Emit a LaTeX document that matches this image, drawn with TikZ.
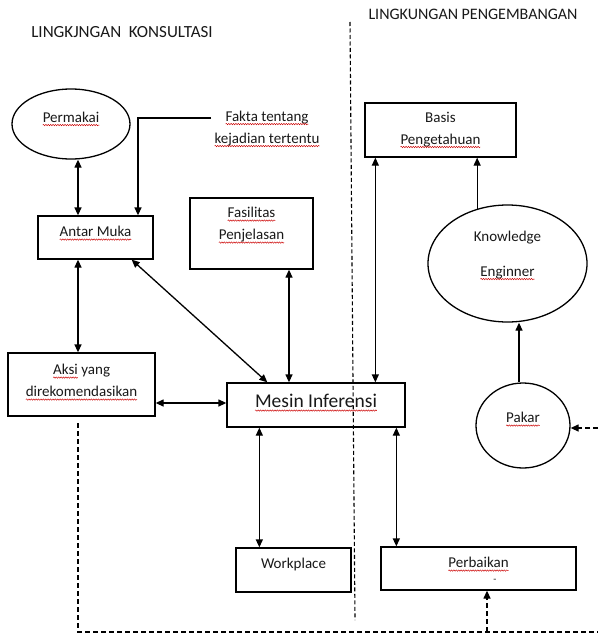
\documentclass[tikz,border=0pt]{standalone}
\usepackage{fontspec}
\setmainfont{Carlito}
\usetikzlibrary{arrows.meta,calc,shapes.geometric,decorations.pathmorphing}
\newcommand\rw[1]{\begin{tikzpicture}[baseline=(rwtxt.base),x=1pt,y=1pt]\node[inner sep=0pt,outer sep=0pt,draw=none] (rwtxt) {#1};\draw[red!80!black, line width=0.45pt, decorate, decoration={snake, amplitude=0.7pt, segment length=2.4pt}] ([yshift=-2.6pt]rwtxt.base west) -- ([yshift=-2.6pt]rwtxt.base east);\end{tikzpicture}}
\tikzset{
  box/.style={draw, line width=1.3pt, rectangle, inner sep=0pt},
  ell/.style={draw, line width=1.3pt, ellipse, inner sep=0pt},
  txt/.style={font=\fontsize{15}{22}\selectfont, align=center, text=black!90, inner sep=0pt},
  ttl/.style={font=\fontsize{16}{20}\selectfont, text=black!90, inner sep=0pt},
  arr/.style={line width=1.3pt, -{Triangle[length=8pt,width=7pt]}},
  dbl/.style={line width=1.3pt, {Triangle[length=8pt,width=7pt]}-{Triangle[length=8pt,width=7pt]}},
  dsh/.style={line width=1.3pt, dash pattern=on 5pt off 3pt},
  dsharr/.style={dsh, -{Triangle[length=8pt,width=7pt]}}
}
\begin{document}
\begin{tikzpicture}[x=1pt,y=-1pt]
\useasboundingbox[fill=white] (0,0) rectangle (598,634);
% titles
\node[ttl, font=\fontsize{17}{20}\selectfont] (t1) at (122,32) {LINGKJNGAN\ \ KONSULTASI};
\node[ttl] (t2) at (473,14) {LINGKUNGAN PENGEMBANGAN};
% separator
\coordinate (s1) at (350,22);
\coordinate (s2) at (355,620);
\draw[dsh, line width=1.1pt, dash pattern=on 4pt off 2.5pt] (s1) -- (s2);
% nodes
\node[ell, minimum width=118pt, minimum height=70pt,
  label={[txt,yshift=5pt]center:\rw{Permakai}}] (pm) at (71,124) {};
\node[txt] (fakta) at (267,129) {\rw{Fakta tentang}\\\rw{kejadian tertentu}};
\node[box, minimum width=115pt, minimum height=43pt,
  label={[txt,yshift=4pt]center:\rw{Antar Muka}}] (am) at (95.5,237.5) {};
\node[box, minimum width=123pt, minimum height=71pt,
  label={[txt,yshift=8pt]center:\rw{Fasilitas}\\\rw{Penjelasan}}] (fp) at (251.5,233.5) {};
\node[box, minimum width=147pt, minimum height=63pt,
  label={[txt,yshift=2pt]center:\rw{Aksi} yang\\\rw{direkomendasikan}}] (aksi) at (81.5,384.5) {};
\node[box, minimum width=178pt, minimum height=44pt,
  label={[txt,font=\fontsize{19.5}{24}\selectfont,yshift=2pt]center:\rw{Mesin Inferensi}}] (mesin) at (316,405) {};
\node[box, minimum width=151pt, minimum height=54pt,
  label={[txt]center:Basis\\\rw{Pengetahuan}}] (basis) at (440.5,130) {};
\node[ell, minimum width=159pt, minimum height=117pt,
  label={[txt,yshift=8pt,font=\fontsize{15}{35}\selectfont]center:Knowledge\\\rw{Enginner}}] (ke) at (507.5,263.5) {};
\node[ell, minimum width=94pt, minimum height=85pt,
  label={[txt,yshift=6pt]center:\rw{Pakar}}] (pk) at (523,425.5) {};
\node[box, minimum width=115pt, minimum height=44pt,
  label={[txt,yshift=6pt]center:Workplace}] (wp) at (293.5,570) {};
\node[box, minimum width=195pt, minimum height=43pt,
  label={[txt,yshift=4pt]center:\rw{Perbaikan}}] (pb) at (478.5,568.5) {};
\node[txt, font=\fontsize{10}{12}\selectfont] (dash) at (495,581) {-};
% connectors
\draw[dbl] ([xshift=7pt]pm.south) -- ([xshift=7pt]pm.south |- am.north);
\coordinate (f1) at (211,118);
\draw[arr] (f1) -| ([xshift=42.5pt]am.north);
\draw[dbl] ([xshift=-17.5pt]am.south) -- ([xshift=-17.5pt]am.south |- aksi.north);
\draw[dbl] ([xshift=-22pt]am.south east) -- ([xshift=41pt]mesin.north west);
\draw[dbl] ([xshift=37.5pt]fp.south) -- ([xshift=37.5pt]fp.south |- mesin.north);
\draw[dbl] ([yshift=2pt]mesin.west -| aksi.east) -- ([yshift=2pt]mesin.west);
\draw[dbl] ([xshift=149pt]mesin.north west) -- ([xshift=149pt]mesin.north west |- basis.south);
\draw[arr] (ke.119.5) -- (ke.119.5 |- basis.south);
\draw[arr] ([xshift=-4pt]pk.north) -- ([xshift=-4pt]pk.north |- ke.south);
\draw[dbl] ([xshift=33pt]mesin.south west) -- ([xshift=33pt]mesin.south west |- wp.north);
\draw[dbl] ([xshift=170pt]mesin.south west) -- ([xshift=170pt]mesin.south west |- pb.north);
% dashed feedback
\coordinate (d1) at (78,423);
\coordinate (d2) at (78,632);
\coordinate (d3) at (598,632);
\coordinate (d4) at (598,428);
\coordinate (d5) at (487,632);
\draw[dsh] (d1) -- (d2) -- (d3);
\draw[dsharr] (d4) -- (d4 -| pk.east);
\draw[dsharr] (d5) -- (d5 |- pb.south);
\end{tikzpicture}
\end{document}
